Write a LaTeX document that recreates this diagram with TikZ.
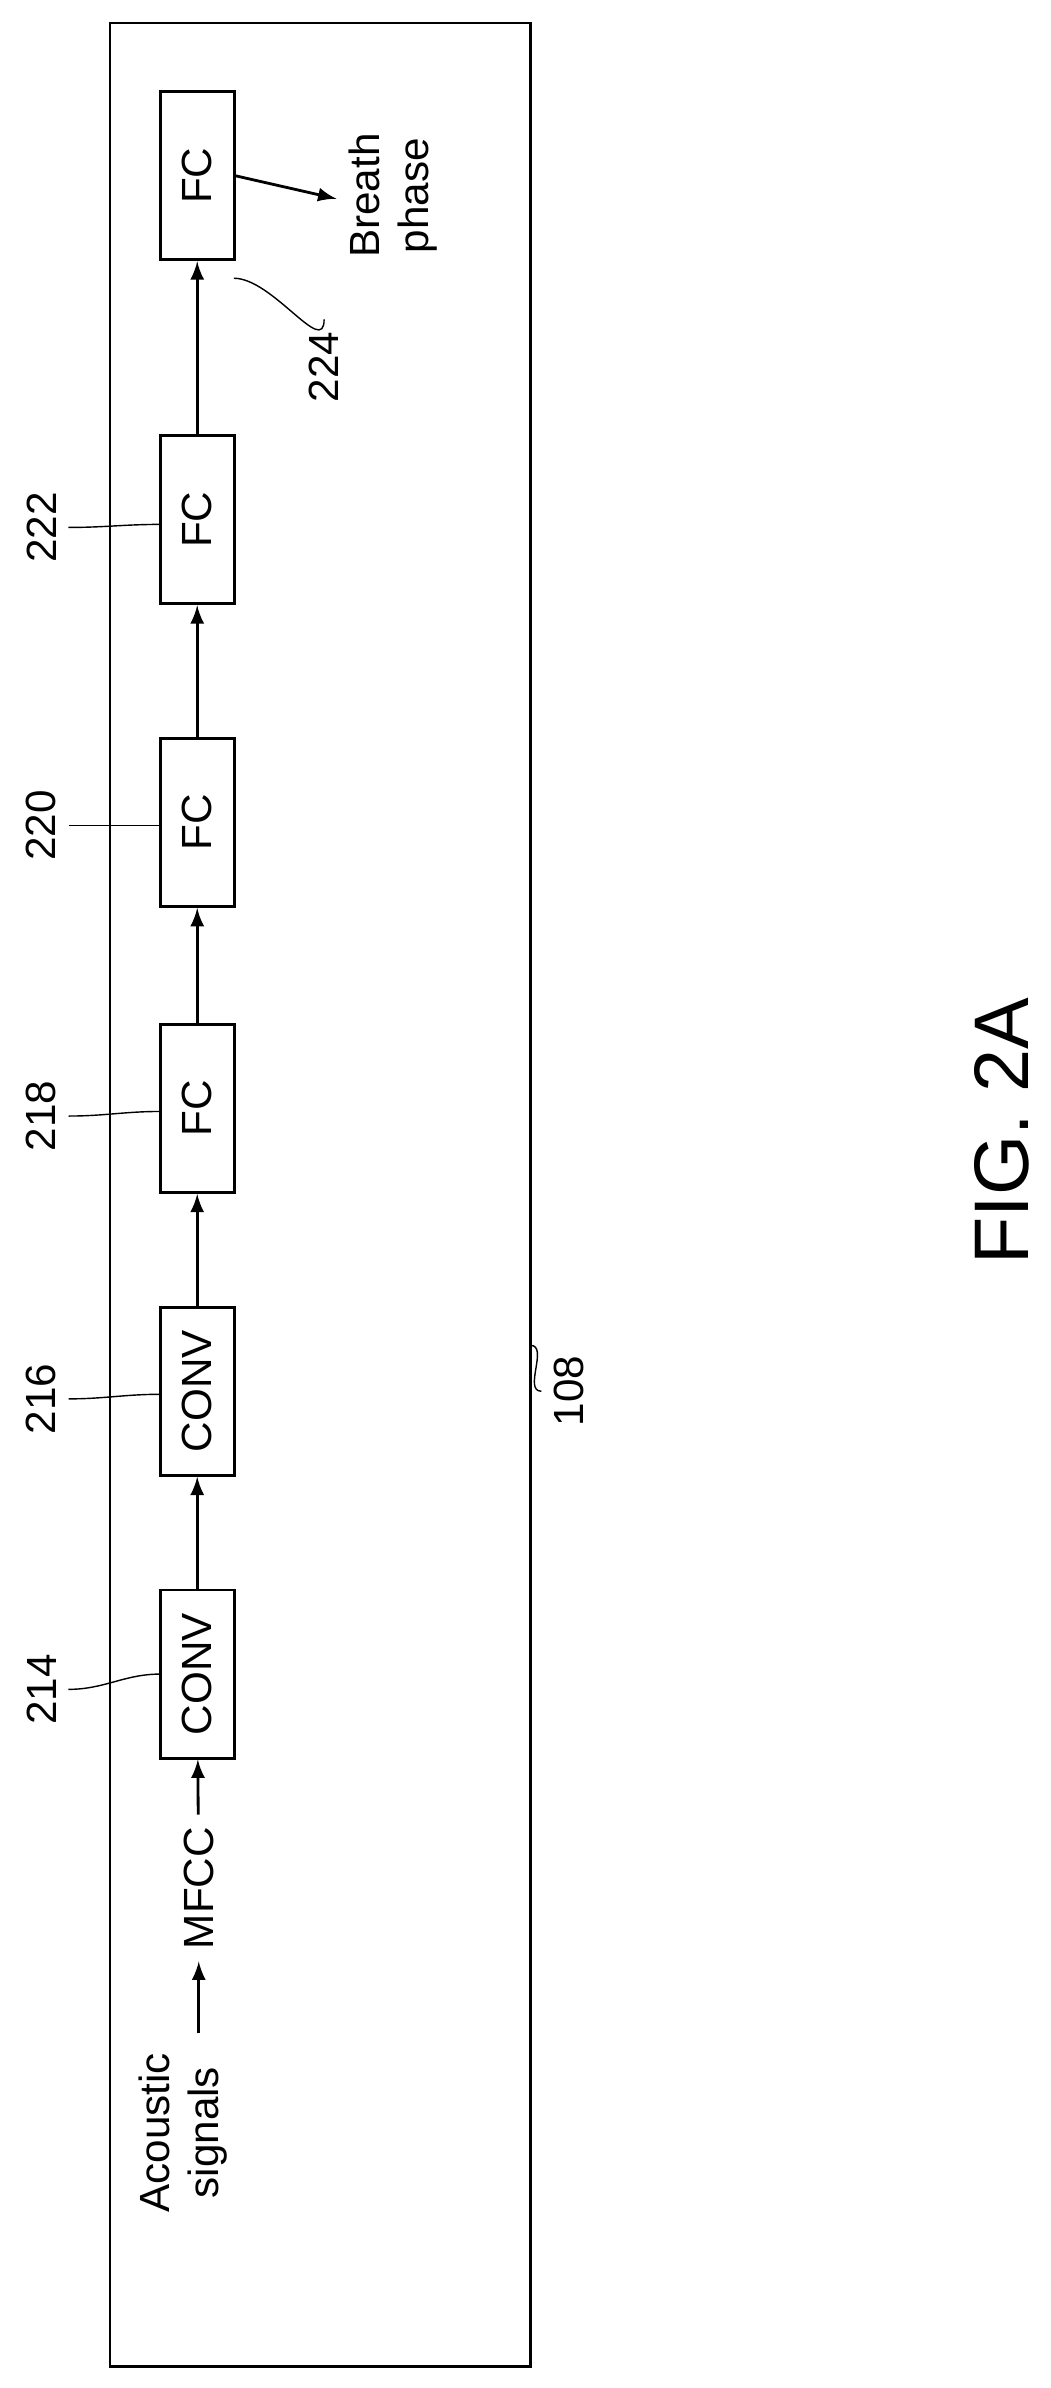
\documentclass[tikz,border=0pt]{standalone}
\usepackage{fontspec}
\setmainfont{Liberation Sans}
\begin{document}
\begin{tikzpicture}
    [
        x=0.01528cm, y=-0.01528cm,
        >=latex,
        layer/.style={draw, thick, rotate=90, minimum width=1.68cm, minimum height=0.74cm, font=\fontsize{12}{14}\selectfont},
        txt/.style={rotate=90, align=center, font=\fontsize{12}{14}\selectfont},
        ref/.style={rotate=90, font=\fontsize{12}{14}\selectfont},
        flow/.style={->, thick},
        lead/.style={thin},
    ]
    \useasboundingbox (0,0) rectangle (687,1562);

    % frame
    \draw[thick] (72,15) rectangle (347,1548);
    \coordinate (fr) at (347,880);

    % layers
    \node (ac)   at (120,1395) [txt] {Acoustic\\signals};
    \node (mfcc) at (130,1235) [txt] {MFCC};
    \node (c214) at (129,1095) [layer] {CONV};
    \node (c216) at (129,910)  [layer] {CONV};
    \node (f218) at (129,725)  [layer] {FC};
    \node (f220) at (129,538)  [layer] {FC};
    \node (f222) at (129,340)  [layer] {FC};
    \node (f224) at (129,115)  [layer] {FC};
    \node (br)   at (257,128)  [txt] {Breath\\phase};

    \draw[flow] (130,1330) -- (mfcc);
    \draw[flow] (mfcc) -- (c214);
    \draw[flow] (c214) -- (c216);
    \draw[flow] (c216) -- (f218);
    \draw[flow] (f218) -- (f220);
    \draw[flow] (f220) -- (f222);
    \draw[flow] (f222) -- (f224);
    \draw[flow] (f224.south) -- (220,130);

    % reference numerals
    \node (n214) at (27,1105) [ref] {214};
    \node (n216) at (27,915)  [ref] {216};
    \node (n218) at (27,730)  [ref] {218};
    \node (n220) at (27,540)  [ref] {220};
    \node (n222) at (27,345)  [ref] {222};
    \node (n224) at (212,240) [ref] {224};
    \node (n108) at (372,910) [ref] {108};
    \node (fig)  at (655,740) [rotate=90, font=\fontsize{22}{26}\selectfont] {FIG. 2A};

    \draw[lead] (n214.south) to[out=0,in=180] (c214.north -| 105,1100);
    \draw[lead] (n216.south) to[out=0,in=180] (105,912);
    \draw[lead] (n218.south) to[out=0,in=180] (105,727);
    \draw[lead] (n220.south) to[out=0,in=180] (105,540);
    \draw[lead] (n222.south) to[out=0,in=180] (105,343);
    \draw[lead] (n224.east) to[out=-90,in=0] (153,182);
    \draw[lead] (n108.north) to[out=180,in=0] (fr);
\end{tikzpicture}
\end{document}
